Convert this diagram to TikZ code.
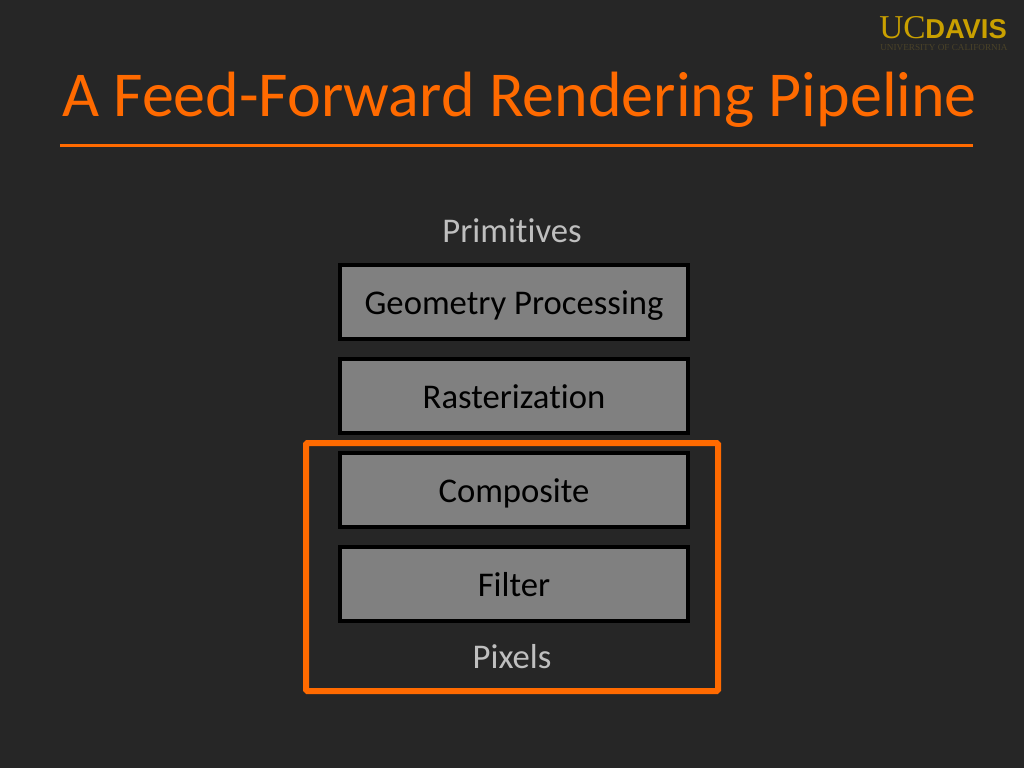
\documentclass[tikz,border=0pt]{standalone}
\usepackage{fontspec}
\setmainfont[Ligatures=NoCommon]{Carlito}
\newfontfamily\logoserif{Liberation Serif}
\newfontfamily\logosans{Liberation Sans}
\definecolor{slidebg}{HTML}{262626}
\definecolor{slideorange}{HTML}{FF6A00}
\definecolor{stagegray}{HTML}{808080}
\definecolor{labelgray}{HTML}{BFBFBF}
\definecolor{logogold}{HTML}{C9A000}
\definecolor{logodim}{HTML}{4A4228}
\tikzset{
    stagebox/.style={draw=black,line width=2.5pt,fill=stagegray,minimum width=261pt,minimum height=55.5pt,inner sep=0pt,text=black,text height=20pt,text depth=2pt,font=\fontsize{26}{30}\selectfont},
    ioname/.style={text=labelgray,inner sep=0pt,text height=17pt,text depth=5pt,font=\fontsize{26}{30}\selectfont}
}
\begin{document}
\begin{tikzpicture}[x=0.75pt,y=-0.75pt]
    \fill[slidebg] (0,0) rectangle (1024,768);
    \useasboundingbox (0,0) rectangle (1024,768);
    \node[anchor=base,text=slideorange,inner sep=0pt,font=\fontsize{48}{54}\selectfont] (title) at (519.5,116) {A Feed-Forward Rendering Pipeline};
    \draw[slideorange,line width=2.25pt] (60,145) -- (973,145);%rule under the title
    \node[ioname] (primitives) at (512,234) {Primitives};
    \node[stagebox] (geometry) at (514,302) {Geometry Processing};
    \node[stagebox] (raster) at (514,396) {Rasterization};
    \node[stagebox] (composite) at (514,490) {Composite};
    \node[stagebox] (filter) at (514,584) {Filter};
    \node[ioname] (pixels) at (512,660) {Pixels};
    \draw[slideorange,line width=4.5pt,rounded corners=1pt] (306,443) rectangle (718,691);%frame round the last stages
    %logo
    \node[anchor=base west,text=logogold,inner sep=0pt,font=\logoserif\fontsize{25}{25}\selectfont] (uc) at (879,38) {UC};
    \node[anchor=base west,text=logogold,inner sep=0pt,font=\logosans\bfseries\fontsize{20.5}{20.5}\selectfont] (davis) at (925,38) {DAVIS};
    \node[anchor=base west,text=logodim,inner sep=0pt,font=\logoserif\fontsize{6.9}{6.9}\selectfont] (uni) at (880,50) {UNIVERSITY OF CALIFORNIA};
\end{tikzpicture}
\end{document}
